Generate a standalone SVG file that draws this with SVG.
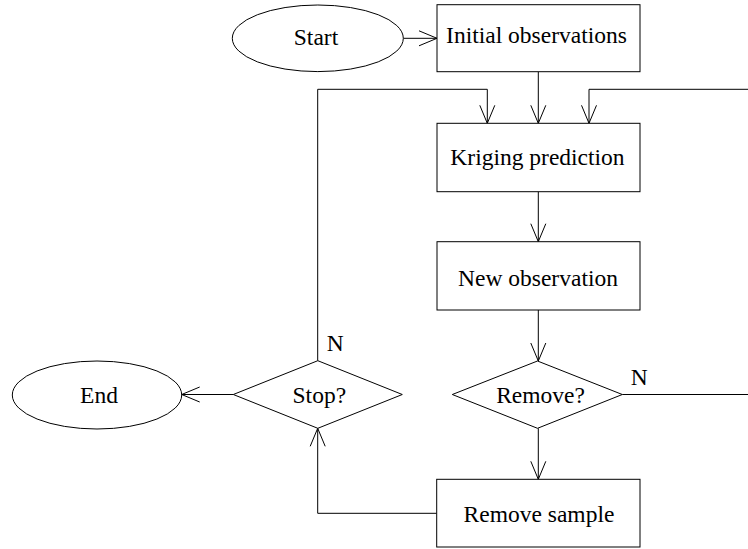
<svg xmlns="http://www.w3.org/2000/svg" width="748" height="549" viewBox="0 0 748 549">
<style>
.shape{fill:#fff;stroke:#000;stroke-width:1}
.conn{fill:none;stroke:#000;stroke-width:1}
text{font-family:"Liberation Serif","Times New Roman",serif;font-size:23.5px;fill:#000}
.c{text-anchor:middle}
</style>
<defs>
<marker id="arr" markerUnits="userSpaceOnUse" markerWidth="22" markerHeight="18" viewBox="-19 -9 22 18" refX="0" refY="0" orient="auto">
<path d="M-18,-7.5 L0,0 L-18,7.5" fill="none" stroke="#000" stroke-width="1"/>
</marker>
</defs>
<rect width="748" height="549" fill="#fff"/>
<g id="connectors">
<path class="conn" d="M403.3,38.3 H437" marker-end="url(#arr)"/>
<path class="conn" d="M538.3,72 V123.3" marker-end="url(#arr)"/>
<path class="conn" d="M317.7,360.7 V89.3 H487.3 V123.3" marker-end="url(#arr)"/>
<path class="conn" d="M748,89.3 H589 V123.3" marker-end="url(#arr)"/>
<path class="conn" d="M538.3,191.7 V241.7" marker-end="url(#arr)"/>
<path class="conn" d="M538.3,310 V361" marker-end="url(#arr)"/>
<path class="conn" d="M622.3,394.5 H748"/>
<path class="conn" d="M538.3,428.3 V479.3" marker-end="url(#arr)"/>
<path class="conn" d="M436.7,513.3 H317.7 V428.3" marker-end="url(#arr)"/>
<path class="conn" d="M233.3,394.5 H181.7" marker-end="url(#arr)"/>
<text x="326.7" y="350.7">N</text>
<text x="630.7" y="385">N</text>
</g>
<g id="start">
<ellipse class="shape" cx="317.8" cy="38.3" rx="85.5" ry="33.3"/>
<text class="c" x="316" y="45">Start</text>
</g>
<g id="initial">
<rect class="shape" x="437" y="4.7" width="203" height="67"/>
<text class="c" x="536.5" y="43.3">Initial observations</text>
</g>
<g id="kriging">
<rect class="shape" x="437" y="123.3" width="203" height="68.4"/>
<text class="c" x="537.5" y="165">Kriging prediction</text>
</g>
<g id="newobs">
<rect class="shape" x="437" y="241.7" width="203" height="68.3"/>
<text class="c" x="538" y="285.5">New observation</text>
</g>
<g id="remove">
<polygon class="shape" points="537.5,361 622.3,394.5 537.5,428.3 452.3,394.5"/>
<text class="c" x="540.5" y="402.7">Remove?</text>
</g>
<g id="stop">
<polygon class="shape" points="317.8,360.7 402.3,394.5 317.8,428.3 233.3,394.5"/>
<text class="c" x="319.3" y="402.7">Stop?</text>
</g>
<g id="end">
<ellipse class="shape" cx="97" cy="395" rx="84.7" ry="34"/>
<text class="c" x="99" y="402.7">End</text>
</g>
<g id="removesample">
<rect class="shape" x="436.7" y="479.3" width="203.3" height="67.7"/>
<text class="c" x="539" y="521.7">Remove sample</text>
</g>
</svg>
